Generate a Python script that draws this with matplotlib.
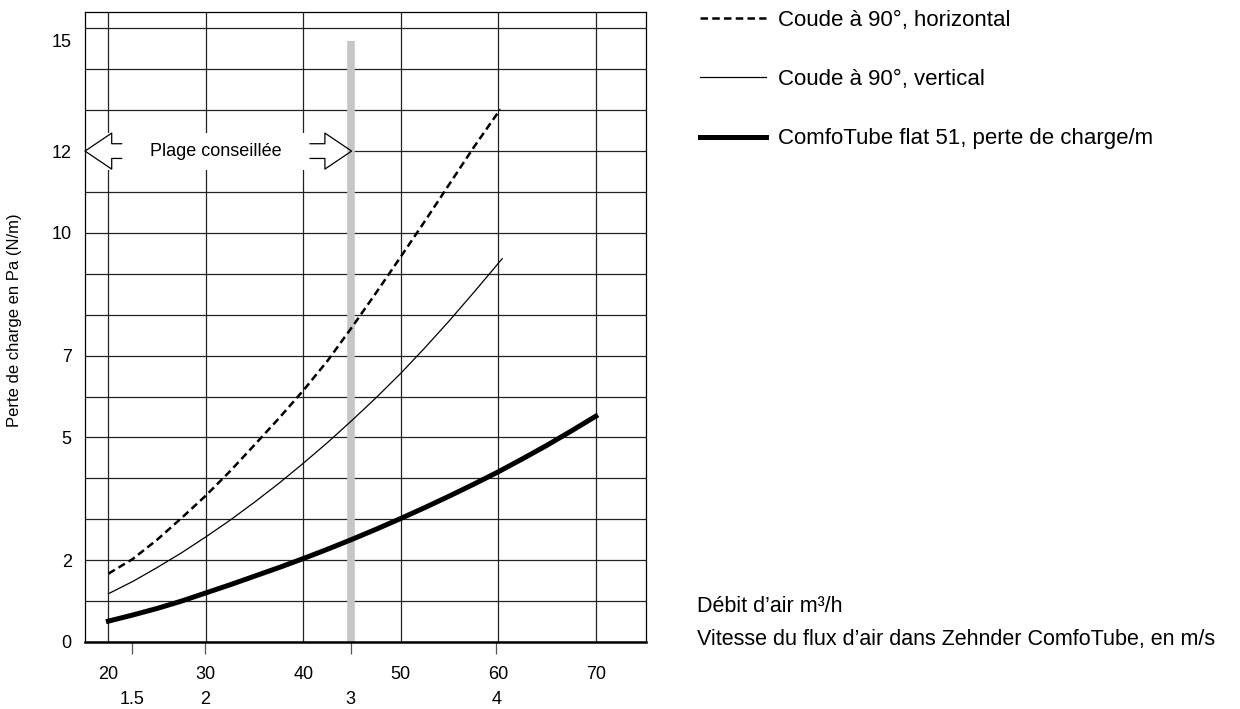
import matplotlib
matplotlib.use("Agg")
import matplotlib.pyplot as plt
from matplotlib.patches import Rectangle
from matplotlib.ticker import MultipleLocator
from matplotlib.transforms import ScaledTranslation

plt.rcParams['font.family'] = ['Liberation Sans', 'DejaVu Sans']

# Coude à 90°, horizontal
flow_bend_h = [20, 22.5, 25, 27.5, 30, 32.5, 35, 37.5, 40, 42.5, 45, 47.5, 50, 52.5, 55, 57.5, 60.2]
loss_bend_h = [1.67, 2.03, 2.5, 3.03, 3.58, 4.18, 4.82, 5.47, 6.15, 6.88, 7.7, 8.55, 9.42, 10.3, 11.2, 12.1, 13.02]

# Coude à 90°, vertical
flow_bend_v = [20, 22.5, 25, 27.5, 30, 32.5, 35, 37.5, 40, 42.5, 45, 47.5, 50, 52.5, 55, 57.5, 60.4]
loss_bend_v = [1.18, 1.48, 1.82, 2.18, 2.57, 2.98, 3.42, 3.88, 4.37, 4.88, 5.42, 5.98, 6.57, 7.2, 7.86, 8.55, 9.37]

# ComfoTube flat 51, perte de charge/m
flow_tube = [20, 22.5, 25, 27.5, 30, 32.5, 35, 37.5, 40, 42.5, 45, 47.5, 50, 52.5, 55, 57.5, 60, 62.5, 65, 67.5, 70]
loss_tube = [0.51, 0.66, 0.82, 1.0, 1.2, 1.4, 1.61, 1.82, 2.04, 2.27, 2.51, 2.76, 3.02, 3.29, 3.57, 3.86, 4.16, 4.48, 4.81, 5.16, 5.52]

flow_ticks = [20, 30, 40, 50, 60, 70]
speed_ticks = [1.5, 2, 3, 4]
speed_labels = ['1.5', '2', '3', '4']
loss_ticks = [0, 2, 5, 7, 10, 12, 15]

flow_per_speed = 14.95   # m3/h pour 1 m/s
recommended_speed = 3    # m/s
band_top = 14.7

W, H = 1240, 709
fig = plt.figure(figsize=(W / 100, H / 100), dpi=100)
ax = fig.add_axes([85 / W, 1 - 642 / H, 561 / W, 630 / H])
xmin, xmax = 17.6, 75.15
ax.set_xlim(xmin, xmax)
ax.set_ylim(0, 15.4)

# grille
ax.set_xticks(flow_ticks)
ax.set_yticks(loss_ticks)
ax.yaxis.set_minor_locator(MultipleLocator(1))
ax.grid(True, axis='x', which='major', color='#222222', lw=0.9)
ax.grid(True, axis='y', which='both', color='#222222', lw=0.9)
ax.tick_params(axis='both', which='both', length=0, labelsize=13)
ax.tick_params(axis='x', pad=17)
ax.tick_params(axis='y', pad=9.5)
for side in ['left', 'top', 'right']:
    ax.spines[side].set_linewidth(0.9)
ax.spines['bottom'].set_linewidth(1.8)

lbl15 = ax.get_yticklabels()[-1]
lbl15.set_transform(lbl15.get_transform() + ScaledTranslation(0, -0.12, fig.dpi_scale_trans))

# axe des vitesses
sec = ax.secondary_xaxis('bottom', functions=(lambda q: q / flow_per_speed, lambda v: v * flow_per_speed))
sec.set_xticks(speed_ticks)
sec.set_xticklabels(speed_labels)
sec.tick_params(length=8.5, width=0.9, color='#555555', pad=27, labelsize=13)
sec.spines['bottom'].set_visible(False)

# plage conseillée
band_q = recommended_speed * flow_per_speed
ax.plot([band_q, band_q], [0, band_top], color='#c6c6c6', lw=5.5, solid_capstyle='butt', zorder=2.5)
ax.add_patch(Rectangle((xmin, 11.53), band_q - xmin, 0.92, facecolor='white', edgecolor='none', zorder=2))

ay, head, shaft = 12, 0.44, 0.18
ax.plot([xmin + 3.76, xmin + 2.74, xmin + 2.74, xmin, xmin + 2.74, xmin + 2.74, xmin + 3.76],
        [ay + shaft, ay + shaft, ay + head, ay, ay - head, ay - shaft, ay - shaft],
        color='black', lw=0.9, zorder=3, clip_on=False)
tip = band_q + 0.1
ax.plot([tip - 4.26, tip - 2.74, tip - 2.74, tip, tip - 2.74, tip - 2.74, tip - 4.26],
        [ay + shaft, ay + shaft, ay + head, ay, ay - head, ay - shaft, ay - shaft],
        color='black', lw=0.9, zorder=3)
ax.text(31.0, ay, 'Plage conseillée', fontsize=13, ha='center', va='center', zorder=3)

# courbes
l1, = ax.plot(flow_bend_h, loss_bend_h, color='black', lw=1.8, dashes=(3.0, 1.7), zorder=4,
              label='Coude à 90°, horizontal')
l2, = ax.plot(flow_bend_v, loss_bend_v, color='black', lw=0.9, zorder=4,
              label='Coude à 90°, vertical')
l3, = ax.plot(flow_tube, loss_tube, color='black', lw=3.6, zorder=4,
              label='ComfoTube flat 51, perte de charge/m')

fig.legend(handles=[l1, l2, l3], loc='upper left', bbox_to_anchor=(700 / W, 1 - 10 / H),
           frameon=False, fontsize=16, handlelength=2.95, handletextpad=0.58,
           labelspacing=1.72, borderpad=0, borderaxespad=0)

fig.text(15 / W, 1 - 320 / H, 'Perte de charge en Pa (N/m)', rotation=90, fontsize=12,
         ha='center', va='center')
fig.text(697 / W, 1 - 607 / H, 'Débit d’air m³/h', fontsize=15.5, va='center')
fig.text(697 / W, 1 - 640 / H, 'Vitesse du flux d’air dans Zehnder ComfoTube, en m/s', fontsize=15.5,
         va='center')

fig.savefig('out.png', dpi=100)
